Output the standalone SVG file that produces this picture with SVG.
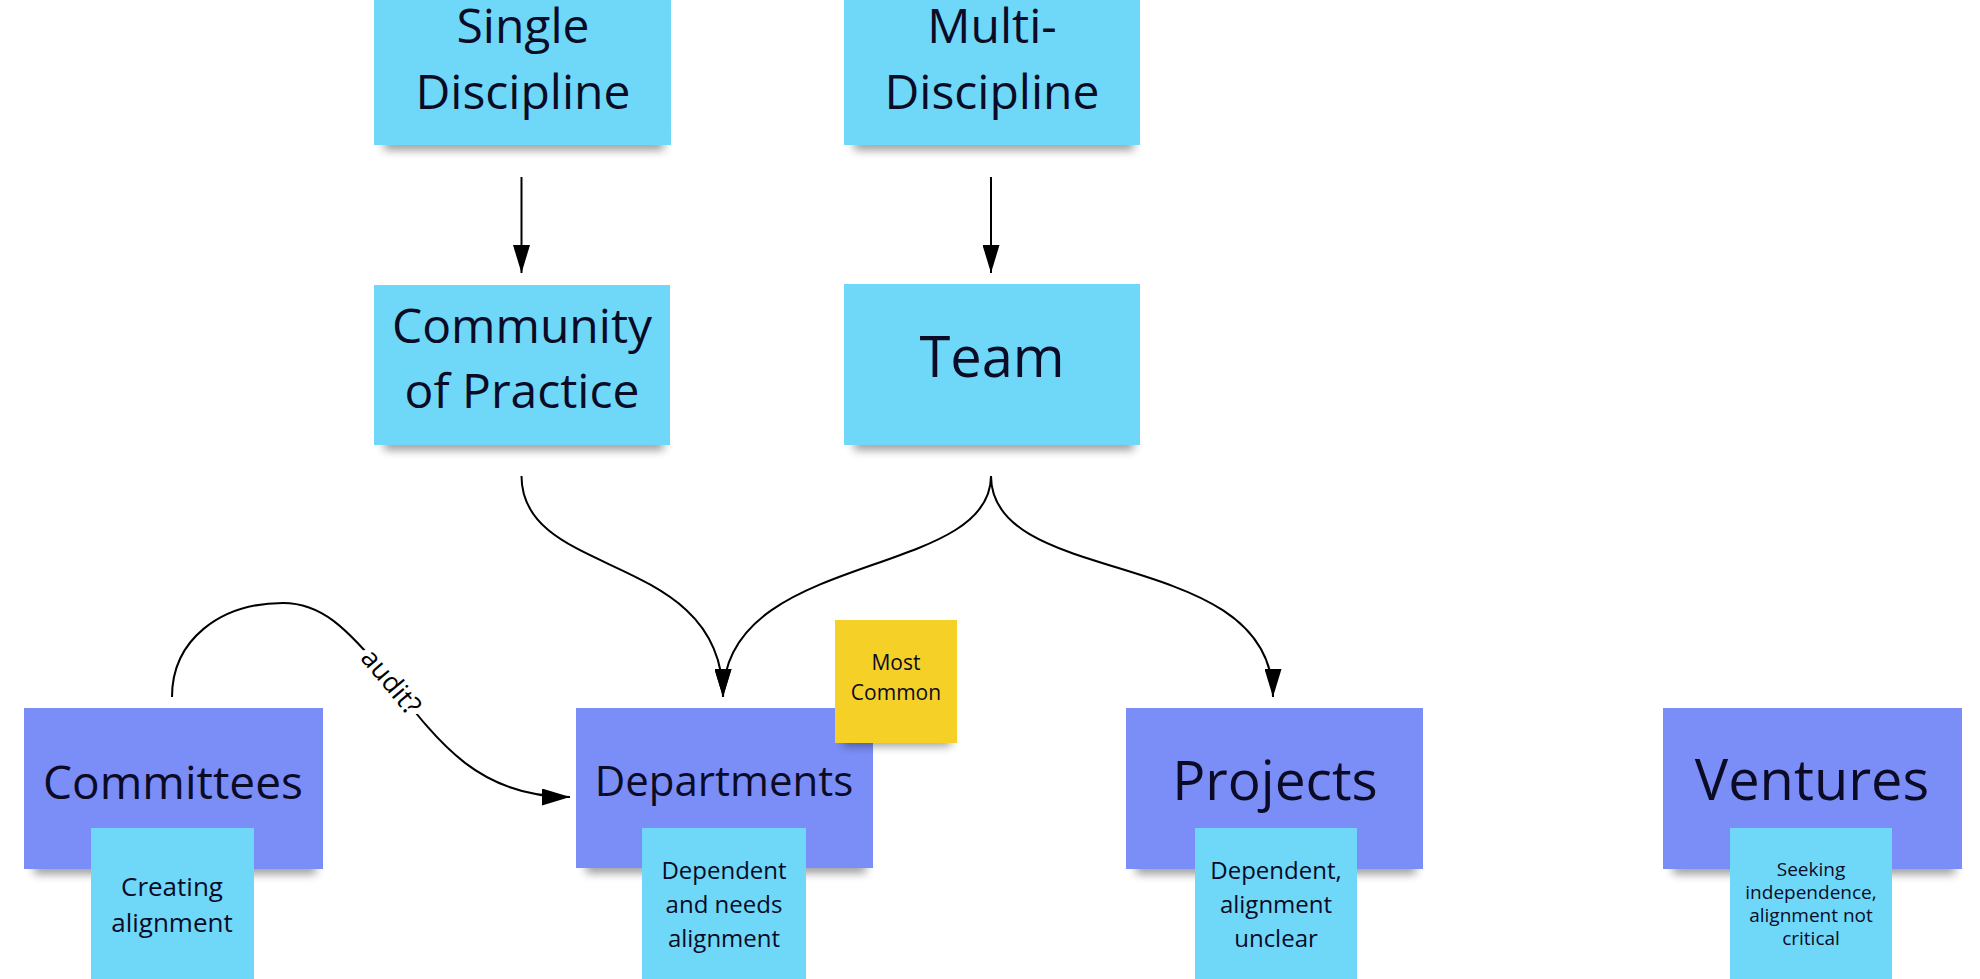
<svg xmlns="http://www.w3.org/2000/svg" width="1980" height="979" viewBox="0 0 1980 979">
<style>
.t{font-family:"Open Sans","Noto Sans","Liberation Sans",sans-serif;fill:#0b0b26;text-anchor:middle}
.cyan{fill:#6fd8f9}
.violet{fill:#7b8ef8}
.yellow{fill:#f5d128}
.edge{fill:none;stroke:#000;stroke-width:2}
.sh{fill:#000;opacity:0.4;filter:url(#blur)}
</style>
<defs>
<filter id="blur" x="-20%" y="-200%" width="140%" height="500%"><feGaussianBlur stdDeviation="5"/></filter>
<marker id="ah2" viewBox="0 0 10 10" refX="10" refY="5" markerWidth="28" markerHeight="17" markerUnits="userSpaceOnUse" orient="auto" preserveAspectRatio="none"><path d="M0,0 L10,5 L0,10 Z" fill="#000"/></marker>
</defs>
<rect width="1980" height="979" fill="#fff"/>

<g id="connectors">
<path class="edge" d="M521.5 177 L521.5 273" marker-end="url(#ah2)"/>
<path class="edge" d="M991 177 L991 273" marker-end="url(#ah2)"/>
<path class="edge" d="M521.5 476 C521.5 580, 723 550, 723 697" marker-end="url(#ah2)"/>
<path class="edge" d="M991 476 C991 580, 723 550, 723 697" marker-end="url(#ah2)"/>
<path class="edge" d="M991 476 C991 590, 1273 545, 1273 697" marker-end="url(#ah2)"/>
<path class="edge" d="M172 697 C172 640, 220 603, 283 603 C320 603, 345 625, 390 680 C440 745, 480 797, 570 797" marker-end="url(#ah2)"/>
<text class="t" x="391" y="682" font-size="27" transform="rotate(50 391 682)" dy="9" style="fill:#000;stroke:#fff;stroke-width:12;paint-order:stroke;stroke-linejoin:round">audit?</text>
</g>

<g id="single-discipline">
<rect class="sh" x="384" y="138" width="280" height="12"/>
<rect class="cyan" x="374" y="-16" width="297" height="161"/>
<text class="t" x="523" y="43" font-size="48">Single</text>
<text class="t" x="523" y="109" font-size="48">Discipline</text>
</g>

<g id="multi-discipline">
<rect class="sh" x="854" y="138" width="280" height="12"/>
<rect class="cyan" x="844" y="-16" width="296" height="161"/>
<text class="t" x="992" y="43" font-size="48">Multi-</text>
<text class="t" x="992" y="109" font-size="48">Discipline</text>
</g>

<g id="community-of-practice">
<rect class="sh" x="384" y="438" width="280" height="12"/>
<rect class="cyan" x="374" y="285" width="296" height="160"/>
<text class="t" x="522" y="343" font-size="48">Community</text>
<text class="t" x="522" y="408" font-size="48">of Practice</text>
</g>

<g id="team">
<rect class="sh" x="854" y="438" width="280" height="12"/>
<rect class="cyan" x="844" y="284" width="296" height="161"/>
<text class="t" x="992" y="377" font-size="56">Team</text>
</g>

<g id="committees">
<rect class="sh" x="34" y="862" width="282" height="12"/>
<rect class="violet" x="24" y="708" width="299" height="161"/>
<text class="t" x="173" y="799" font-size="46">Committees</text>
</g>

<g id="creating-alignment">
<rect class="cyan" x="91" y="828" width="163" height="165"/>
<text class="t" x="172" y="896" font-size="26">Creating</text>
<text class="t" x="172" y="932" font-size="26">alignment</text>
</g>

<g id="departments">
<rect class="sh" x="586" y="861" width="280" height="12"/>
<rect class="violet" x="576" y="708" width="297" height="160"/>
<text class="t" x="724" y="796" font-size="42">Departments</text>
</g>

<g id="most-common">
<rect class="sh" x="843" y="736" width="108" height="10"/>
<rect class="yellow" x="835" y="620" width="122" height="123"/>
<text class="t" x="896" y="670" font-size="21">Most</text>
<text class="t" x="896" y="700" font-size="21">Common</text>
</g>

<g id="dependent-needs-alignment">
<rect class="cyan" x="642" y="828" width="164" height="165"/>
<text class="t" x="724" y="879" font-size="24">Dependent</text>
<text class="t" x="724" y="913" font-size="24">and needs</text>
<text class="t" x="724" y="947" font-size="24">alignment</text>
</g>

<g id="projects">
<rect class="sh" x="1136" y="862" width="280" height="12"/>
<rect class="violet" x="1126" y="708" width="297" height="161"/>
<text class="t" x="1275" y="800" font-size="55">Projects</text>
</g>

<g id="dependent-alignment-unclear">
<rect class="cyan" x="1195" y="828" width="162" height="165"/>
<text class="t" x="1276" y="879" font-size="24">Dependent,</text>
<text class="t" x="1276" y="913" font-size="24">alignment</text>
<text class="t" x="1276" y="947" font-size="24">unclear</text>
</g>

<g id="ventures">
<rect class="sh" x="1673" y="862" width="282" height="12"/>
<rect class="violet" x="1663" y="708" width="299" height="161"/>
<text class="t" x="1812" y="800" font-size="56">Ventures</text>
</g>

<g id="seeking-independence">
<rect class="cyan" x="1730" y="828" width="162" height="165"/>
<text class="t" x="1811" y="876" font-size="19">Seeking</text>
<text class="t" x="1811" y="899" font-size="19">independence,</text>
<text class="t" x="1811" y="922" font-size="19">alignment not</text>
<text class="t" x="1811" y="945" font-size="19">critical</text>
</g>
</svg>
